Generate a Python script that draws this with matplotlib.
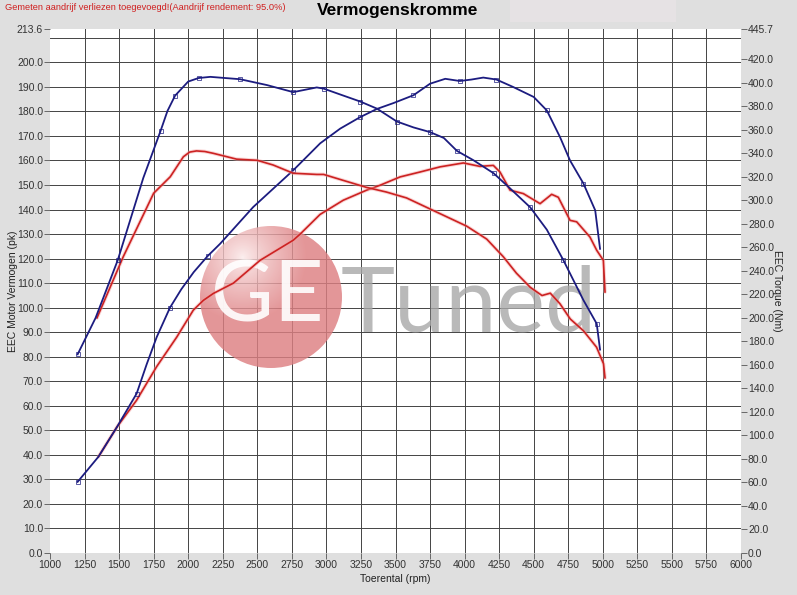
import numpy as np
import matplotlib
matplotlib.use('Agg')
from matplotlib import pyplot as plt
from matplotlib.patches import Ellipse, Rectangle

plt.rcParams['font.family'] = ['Liberation Sans', 'DejaVu Sans']

# Gemeten waarden (na aandrijfverlies)
rpm_vermogen_na = [1200, 1350, 1485, 1627, 1700, 1772, 1868, 1950, 2040, 2140, 2230, 2470, 2760,
                   2955, 3100, 3245, 3365, 3485, 3630, 3750, 3860, 3965, 4050, 4135, 4230, 4350,
                   4500, 4595, 4690, 4763, 4860, 4945, 4980]
vermogen_na = [29, 39.2, 51.4, 65, 77, 88, 100, 107.5, 114.5, 121, 126, 141, 156,
               167, 173, 177.7, 181, 183.4, 186.6, 191.3, 193.3, 192.4, 193, 193.8, 193, 190,
               185.9, 180.4, 169.6, 160, 150.6, 139.7, 124]

rpm_koppel_na = [1200, 1330, 1490, 1675, 1800, 1850, 1905, 2000, 2075, 2160, 2375, 2570, 2760,
                 2930, 2980, 3100, 3245, 3365, 3510, 3630, 3750, 3850, 3945, 4065, 4210, 4330,
                 4475, 4595, 4715, 4860, 4956, 4980]
koppel_na = [169, 200, 249, 319, 359, 376, 389, 401, 404, 405, 403, 398, 392,
             396, 395, 390, 384, 378, 367, 362, 358, 353, 342, 334, 323, 310,
             294, 275, 249, 215, 195, 173]

# Origineel
rpm_vermogen_voor = [1350, 1485, 1627, 1772, 1917, 2037, 2110, 2182, 2327, 2520, 2760, 2810, 2954,
                     3122, 3291, 3388, 3533, 3677, 3822, 3991, 4111, 4208, 4256, 4329, 4425, 4546,
                     4630, 4678, 4763, 4811, 4907, 4956, 5004, 5016]
vermogen_voor = [39.2, 51.4, 62.3, 76, 88, 99, 103, 105.8, 110, 119.3, 127.5, 130, 138,
                 143.8, 147.9, 149.9, 153.3, 155.3, 157.4, 159, 157.6, 158, 155.3, 147.9, 146.5, 142.4,
                 146.2, 145, 135.6, 135, 128.8, 123.4, 119.3, 106.4]

rpm_koppel_voor = [1340, 1530, 1750, 1870, 1965, 2010, 2060, 2120, 2180, 2350, 2500, 2615, 2760,
                   2930, 2980, 3120, 3290, 3435, 3580, 3725, 3870, 4015, 4160, 4280, 4375, 4475,
                   4560, 4620, 4690, 4765, 4860, 4955, 5005, 5016]
koppel_voor = [200, 252, 306, 320, 337, 341, 342, 341.5, 340, 335, 334, 330, 323,
               322, 322, 317, 311, 307, 302, 294, 286, 278, 267, 252, 238, 226,
               219, 221, 212, 199, 189, 175, 161, 149]

pk_max = 213.6
nm_max = 445.7
pk_ticks = list(np.arange(0, 201, 10)) + [pk_max]
nm_ticks = list(np.arange(0, 421, 20)) + [nm_max]
rpm_ticks = np.arange(1000, 6001, 250)

blauw = '#1c1c80'
rood = '#cc2222'

fig = plt.figure(figsize=(7.97, 5.95), dpi=100, facecolor='#dfdfdf')
ax = fig.add_axes([50 / 797, 1 - 553 / 595, 691 / 797, 524 / 595])
ax.set_facecolor('white')
for s in ax.spines.values():
    s.set_visible(False)

ax.xaxis.remove_overlapping_locs = False
ax.yaxis.remove_overlapping_locs = False
ax.set_xlim(1000, 6000)
ax.set_ylim(0, pk_max)
ax.set_xticks(rpm_ticks)
ax.set_xticklabels([str(r) for r in rpm_ticks])
ax.set_xticks(rpm_ticks[1:-1], minor=True)
ax.set_yticks(pk_ticks)
ax.set_yticklabels(['%.1f' % v for v in pk_ticks])
ax.set_yticks(np.arange(10, 211, 10), minor=True)
ax.grid(which='minor', color='#444444', lw=0.7)
ax.tick_params(which='minor', length=0)
ax.tick_params(which='major', length=4, width=0.6, color='#555555', labelsize=7.5,
               labelcolor='#333333', pad=1)
ax.set_axisbelow(True)

ax2 = ax.twinx()
for s in ax2.spines.values():
    s.set_visible(False)
ax2.set_ylim(0, nm_max)
ax2.set_yticks(nm_ticks)
ax2.set_yticklabels(['%.1f' % v for v in nm_ticks])
ax2.tick_params(length=4, width=0.6, color='#555555', labelsize=7.5, labelcolor='#333333', pad=1)

ax.set_xlabel('Toerental (rpm)', fontsize=7.5, color='#222222', labelpad=3)
ax.set_ylabel('EEC Motor Vermogen (pk)', fontsize=7.5, color='#222222', labelpad=-1)
ax2.set_ylabel('EEC Torque (Nm)', fontsize=7.5, color='#222222', rotation=270, labelpad=6)

# watermerk (onder de curves)
cx, cy = (271 - 50) / 691, (553 - 297) / 524
rx, ry = 71 / 691, 71 / 524
yy, xx = np.mgrid[0:1:200j, 0:1:200j]
d = np.sqrt((xx - 0.3) ** 2 + (yy - 0.22) ** 2)
t = np.clip(d / 0.45, 0, 1) ** 0.8
grad = np.zeros((200, 200, 4))
c0 = np.array([0.99, 0.93, 0.93])
c1 = np.array([0.87, 0.50, 0.51])
for i in range(3):
    grad[..., i] = c0[i] + (c1[i] - c0[i]) * t
grad[..., 3] = 0.82
im = ax.imshow(grad, extent=[cx - rx, cx + rx, cy - ry, cy + ry], origin='upper',
               transform=ax.transAxes, aspect='auto', zorder=1.5)
circ = Ellipse((cx, cy), 2 * rx, 2 * ry, transform=ax.transAxes, fc='none', ec='none')
ax.add_patch(circ)
im.set_clip_path(circ)
ax.set_xlim(1000, 6000)
ax.set_ylim(0, pk_max)
ax.text(267 / 797, 1 - 298 / 595, 'GE', fontsize=62, color='white', family='Lato', alpha=0.9,
        ha='center', va='center', zorder=3, transform=fig.transFigure)
ax.text(341 / 797, 1 - 331 / 595, 'Tuned', fontsize=66, color='#a8a8a8', alpha=0.8,
        family='Lato', ha='left', va='baseline', zorder=3, transform=fig.transFigure)

# rode curves met gloed
for x, y, a in [(rpm_vermogen_voor, vermogen_voor, ax), (rpm_koppel_voor, koppel_voor, ax2)]:
    a.plot(x, y, color='#f4a0a0', lw=2.6, alpha=0.45, zorder=4, solid_capstyle='round')
    a.plot(x, y, color=rood, lw=1.2, zorder=5)

ax.plot(rpm_vermogen_na, vermogen_na, color=blauw, lw=1.3, zorder=6,
        marker='s', ms=2.5, mfc='none', mew=0.5, markevery=3)
ax2.plot(rpm_koppel_na, koppel_na, color=blauw, lw=1.3, zorder=6,
         marker='s', ms=2.5, mfc='none', mew=0.5, markevery=2)
ax2.set_ylim(0, nm_max)

# kop
fig.patches.append(Rectangle((510 / 797, 1 - 22 / 595), 166 / 797, 22 / 595,
                             transform=fig.transFigure, fc='#e6e2e4', ec='none'))
fig.text(398 / 797, 1 - 11 / 595, 'Vermogenskromme', fontsize=12.5, fontweight='bold',
         ha='center', va='center')
fig.text(5 / 797, 1 - 7 / 595, 'Gemeten aandrijf verliezen toegevoegd!(Aandrijf rendement: 95.0%)',
         fontsize=6.7, color='#d02020', ha='left', va='center')

plt.savefig('out.png', dpi=100, facecolor=fig.get_facecolor())
